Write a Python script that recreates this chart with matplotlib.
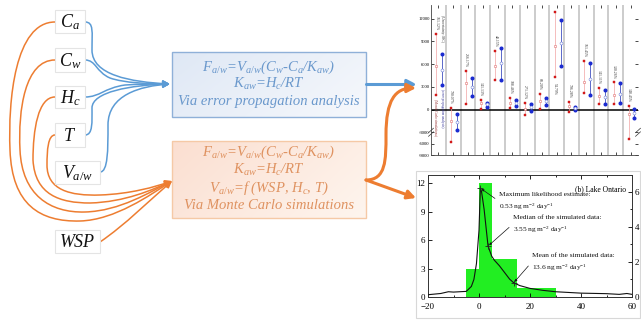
import numpy as np
import matplotlib
matplotlib.use("Agg")
import matplotlib.pyplot as plt
from matplotlib.path import Path
from matplotlib.patches import FancyArrowPatch, Rectangle
from matplotlib.colors import LinearSegmentedColormap

plt.rcParams['font.family'] = ['Liberation Serif', 'DejaVu Serif']
plt.rcParams['mathtext.fontset'] = 'custom'
plt.rcParams['mathtext.it'] = 'Liberation Serif:italic'
plt.rcParams['mathtext.rm'] = 'Liberation Serif'
plt.rcParams['mathtext.bf'] = 'Liberation Serif:bold'

# ---------------- data ----------------
input_labels = [r"$C_a$", r"$C_w$", r"$H_c$", r"$T$", r"$V_{a/w}$", r"$WSP$"]
blue_box_lines = ["F$_{a/w}$=V$_{a/w}$(C$_w$-C$_a$/K$_{aw}$)",
                  "K$_{aw}$=H$_c$/RT",
                  "Via error propagation analysis"]
orange_box_lines = ["F$_{a/w}$=V$_{a/w}$(C$_w$-C$_a$/K$_{aw}$)",
                    "K$_{aw}$=H$_c$/RT",
                    "V$_{a/w}$=f (WSP, H$_c$, T)",
                    "Via Monte Carlo simulations"]

pct_labels = ["161.12%", "790.07%", "256.17%", "141.13%", "48.15%", "188.46%",
              "271.12%", "68.20%", "54.79%", "796.28%", "161.45%", "141.11%",
              "130.26%", "148.45%"]
red_hi = [10010, 190, 5140, 1250, 7700, 1510, 800, 2040, 12870, 1020, 6370, 2790, 3590, 490]
red_mid = [5800, -1500, 3450, 930, 5710, 850, 50, 1150, 8360, 490, 3680, 1820, 1910, -610]
red_lo = [1950, -5580, 720, 50, 3900, 190, -750, 50, 4250, -270, 2120, 720, 720, -4860]
blue_hi = [7350, -530, 4110, 930, 8100, 1250, 720, 1590, 11770, 360, 6110, 2570, 3450, 130]
blue_mid = [5270, -1590, 3010, 720, 6150, 850, 360, 1150, 8760, 190, 4040, 1690, 2040, -480]
blue_lo = [3280, -2740, 1730, 360, 3940, 490, -170, 580, 5710, -40, 1910, 720, 800, -1140]
top_yticks = [12000, 9000, 6000, 3000, 0, -3000, -6000, -9000]

hist_edges = [-5, 0, 5, 15, 30]
hist_counts = [3, 12, 4, 1]
curve_x = [-20, -15, -12, -10, -5, -3, -2, -1, 0, 0.53, 1, 2, 3.55, 5, 6, 8, 10, 12,
           13.6, 16, 20, 25, 30, 40, 50, 55, 58, 60]
curve_y = [0.13, 0.2, 0.3, 0.28, 0.32, 0.6, 1.0, 1.9, 3.8, 6.2, 6.0, 5.0, 2.9, 2.32, 2.1,
           1.78, 1.4, 1.02, 0.81, 0.65, 0.49, 0.38, 0.3, 0.22, 0.19, 0.15, 0.2, 0.15]
stat_x = [0.53, 3.55, 13.6]
stat_text = ["Maximum likelihood estimate:\n0.53 ng m$^{-2}$ day$^{-1}$",
             "Median of the simulated data:\n3.55 ng m$^{-2}$ day$^{-1}$",
             "Mean of the simulated data:\n13.6 ng m$^{-2}$ day$^{-1}$"]

BLUE = "#5b9bd5"
ORANGE = "#ed7d31"

fig = plt.figure(figsize=(6.41, 3.22), dpi=100)
fig.patch.set_facecolor("white")

# ---------------- diagram (pixel coordinates) ----------------
ax0 = fig.add_axes([0, 0, 1, 1])
ax0.set_xlim(0, 641)
ax0.set_ylim(322, 0)
ax0.axis("off")

label_boxes = [(55, 10, 30, 23), (55, 48, 30, 24), (55, 86, 30, 22),
               (55, 123, 30, 24), (55, 161, 45, 23), (55, 230, 45, 23)]
for (x, y, w, h), lab in zip(label_boxes, input_labels):
    ax0.add_patch(Rectangle((x, y), w, h, facecolor="white", edgecolor="#e4e4e4",
                            lw=0.8, zorder=3))
    ax0.text(x + w / 2, y + h / 2 + 1, lab, ha="center", va="center",
             fontsize=13, color="#111111", zorder=4)

def grad_box(x0, y0, x1, y1, c0, c1, edge):
    X, Y = np.meshgrid(np.linspace(0, 1, 60), np.linspace(0, 1, 30))
    g = (X * 0.7 + Y * 0.3)
    cmap = LinearSegmentedColormap.from_list("g", [c0, c1])
    ax0.imshow(g, extent=(x0, x1, y1, y0), cmap=cmap, aspect="auto", zorder=1,
               interpolation="bilinear")
    ax0.add_patch(Rectangle((x0, y0), x1 - x0, y1 - y0, facecolor="none",
                            edgecolor=edge, lw=1.0, zorder=2))

grad_box(172, 52, 366, 117, "#dfe8f5", "#f6f8fc", "#8fb0d8")
grad_box(172, 141, 366, 218, "#fbdfd1", "#fef5ee", "#f5c9a6")
ax0.set_xlim(0, 641)
ax0.set_ylim(322, 0)

for txt, yy in zip(blue_box_lines, [67, 84, 101]):
    ax0.text(269, yy, txt, ha="center", va="center", fontsize=10.5,
             style="italic", color="#6a98cc", zorder=3)
for txt, yy in zip(orange_box_lines, [152, 170, 188, 205]):
    ax0.text(269, yy, txt, ha="center", va="center", fontsize=10.5,
             style="italic", color="#df9260", zorder=3)

M, C, L = Path.MOVETO, Path.CURVE4, Path.LINETO

def arrow(verts, codes, color, lw=1.1, head=(4.0, 2.0)):
    p = FancyArrowPatch(path=Path(verts, codes),
                        arrowstyle="-|>,head_length=%g,head_width=%g" % head,
                        color=color, lw=lw, zorder=2.5, shrinkA=0, shrinkB=0)
    ax0.add_patch(p)

blue_tip = (170, 84)
blue_paths = [
    [(85, 22), (94, 22), (92, 32), (92, 50), (92, 75), (130, 82), blue_tip],
    [(85, 60), (96, 60), (96, 72), (110, 78), (124, 83), (150, 84), blue_tip],
    [(85, 97), (100, 97), (104, 88), (125, 85), (140, 84), (155, 84), blue_tip],
    [(85, 135), (93, 135), (92, 122), (92, 108), (92, 92), (130, 85), blue_tip],
    [(100, 172), (108, 172), (108, 150), (108, 125), (108, 95), (140, 86), blue_tip],
]
for v in blue_paths:
    arrow(v, [M, C, C, C, C, C, C], BLUE)

or_tip = (172, 181)
orange_paths = [
    [(55, 22), (15, 22), (8, 100), (10, 150), (12, 205), (40, 222), (80, 221),
     (115, 220), (150, 195), or_tip],
    [(55, 60), (25, 60), (18, 110), (20, 150), (22, 195), (50, 213), (85, 212),
     (120, 211), (150, 192), or_tip],
    [(55, 97), (38, 97), (33, 130), (33, 160), (35, 195), (60, 203), (90, 203),
     (125, 202), (152, 190), or_tip],
    [(55, 135), (48, 135), (47, 150), (47, 165), (47, 190), (70, 196), (100, 195),
     (130, 194), (155, 187), or_tip],
]
for v in orange_paths:
    arrow(v, [M, C, C, C, C, C, C, C, C, C], ORANGE)
arrow([(100, 242), (125, 225), (150, 200), or_tip], [M, C, C, C], ORANGE)

# right-side connectors
arrow([(366, 84), (416, 84)], [M, L], BLUE, lw=2.2, head=(5, 2.6))
arrow([(366, 180), (386, 180), (386, 160), (386, 135), (386, 100), (395, 88), (416, 88)],
      [M, C, C, C, C, C, C], ORANGE, lw=2.2, head=(5, 2.6))
arrow([(366, 180), (416, 198)], [M, L], ORANGE, lw=2.2, head=(5, 2.6))

# frame around the bottom chart
ax0.add_patch(Rectangle((416, 171), 224, 147, facecolor="white", edgecolor="#d8d8d8",
                        lw=0.8, zorder=0.5))

# ---------------- top chart ----------------
def fwd(y):
    y = np.asarray(y, dtype=float)
    return np.where(y >= -3000, y, -3000 + (y + 3000) * 0.5)

def inv(y):
    y = np.asarray(y, dtype=float)
    return np.where(y >= -3000, y, -3000 + (y + 3000) * 2.0)

axt = fig.add_axes([431 / 641, 1 - 155 / 322, 207 / 641, 150 / 322])
axt.set_yscale("function", functions=(fwd, inv))
n = len(red_hi)
idx = np.arange(n)
axt.set_xlim(-0.5, n - 0.5)
axt.set_ylim(-9000, 13800)
for b in np.arange(0.5, n - 0.5, 1.0):
    axt.axvline(b, color="#cccccc", lw=1.4, zorder=1)
axt.axhline(0, color="black", lw=1.1, zorder=2)

rx = idx - 0.14
bx = idx + 0.26
for i in range(n):
    axt.plot([rx[i], rx[i]], [red_lo[i], red_hi[i]], color="#f2a3a3", lw=0.5, zorder=3)
    axt.plot([bx[i], bx[i]], [blue_lo[i], blue_hi[i]], color="#4050c0", lw=0.6, zorder=3)
axt.plot(rx, red_hi, "s", color="#e02020", ms=1.7, mec="#c01010", mew=0.3, zorder=4)
axt.plot(rx, red_lo, "s", color="#e02020", ms=1.7, mec="#c01010", mew=0.3, zorder=4)
axt.plot(rx, red_mid, "s", mfc="white", mec="#e07070", ms=1.9, mew=0.4, zorder=4)
axt.plot(bx, blue_hi, "o", color="#1a2ad0", ms=1.9, zorder=4)
axt.plot(bx, blue_lo, "o", color="#1a2ad0", ms=1.9, zorder=4)
axt.plot(bx, blue_mid, "o", mfc="white", mec="#7080d8", ms=2.1, mew=0.4, zorder=4)

for i in range(n):
    if red_hi[i] > 12000:
        axt.text(rx[i], red_lo[i] - 700, pct_labels[i], rotation=-90, ha="center",
                 va="top", fontsize=2.8, color="#333333", zorder=5)
    else:
        axt.text(rx[i], red_hi[i] + 500, pct_labels[i], rotation=-90, ha="center",
                 va="bottom", fontsize=2.8, color="#333333", zorder=5)
axt.text(bx[0], blue_hi[0] + 1500, "(Uncertainty: MC)", rotation=-90, ha="center",
         va="bottom", fontsize=2.6, color="#333333")
axt.text(rx[0], red_lo[0] - 500, "(Monte Carlo simulations)", rotation=-90,
         ha="center", va="top", fontsize=2.5, color="#993333")
axt.text(bx[0], blue_lo[0] - 600, "(error propagation analysis)", rotation=-90,
         ha="center", va="top", fontsize=2.5, color="#333399")

axt.set_yticks(top_yticks)
axt.set_yticklabels([str(t) for t in top_yticks], fontsize=3.3)
axt.set_xticks(idx)
axt.set_xticklabels([])
axt.tick_params(axis="both", direction="in", length=2, width=0.5, pad=1,
                top=True, right=True)
for s in axt.spines.values():
    s.set_linewidth(0.6)
    s.set_color("#444444")
axt.spines["right"].set_visible(False)
axt.spines["top"].set_visible(False)
# axis-break marks
yb = axt.transAxes.inverted().transform(axt.transData.transform((0, -3000)))[1]
for xa in (0.0, 1.0):
    for dy in (-0.012, 0.012):
        axt.plot([xa - 0.012, xa + 0.012], [yb + dy - 0.015, yb + dy + 0.015],
                 transform=axt.transAxes, color="#333333", lw=0.5, clip_on=False)

# ---------------- bottom chart ----------------
axb = fig.add_axes([428 / 641, 1 - 297 / 322, 204 / 641, 122 / 322])
axb.bar(hist_edges[:-1], hist_counts, width=np.diff(hist_edges), align="edge",
        color="#22ee22", edgecolor="none", zorder=1)
axb.set_xlim(-20, 60)
axb.set_ylim(0, 12.88)
axb.set_yticks([0, 3, 6, 9, 12])
axb.set_xticks([-20, 0, 20, 40, 60])
axb.set_xticks([-10, 10, 30, 50], minor=True)
axb.tick_params(axis="both", which="both", direction="in", labelsize=6.5, width=0.6,
                top=True)
axb.tick_params(axis="x", pad=4)
axb.tick_params(axis="y", pad=2, right=False)
axb.tick_params(which="major", length=3)
axb.tick_params(which="minor", length=1.5)

ax2 = axb.twinx()
ax2.plot(curve_x, curve_y, color="#111111", lw=0.8, zorder=3)
ax2.set_ylim(0, 6.95)
ax2.set_yticks([0, 2, 4, 6])
ax2.set_yticks([1, 3, 5], minor=True)
ax2.tick_params(axis="y", which="both", direction="in", labelsize=6.5, width=0.6, pad=2)
ax2.tick_params(which="major", length=3)
ax2.tick_params(which="minor", length=1.5)

stat_y = np.interp(stat_x, curve_x, curve_y)
ax2.plot(stat_x, stat_y, "+", color="#222222", ms=4, mew=0.6, zorder=4)
text_pos = [(7.8, 5.4), (13.3, 4.1), (20.8, 1.95)]
for sx, sy, txt, tp in zip(stat_x, stat_y, stat_text, text_pos):
    ax2.annotate(txt, xy=(sx, sy), xytext=tp, ha="left", va="center", fontsize=5.3,
                 linespacing=1.7, color="#111111",
                 arrowprops=dict(arrowstyle="-|>,head_length=0.25,head_width=0.12",
                                 lw=0.5, color="#111111", shrinkA=1, shrinkB=1,
                                 relpos=(0, 0.55)))
ax2.text(57.5, 6.15, "(b) Lake Ontario", ha="right", va="center", fontsize=5.5)

for a in (axb, ax2):
    for s in a.spines.values():
        s.set_linewidth(0.6)
        s.set_color("#333333")

fig.savefig("out.png", dpi=100, facecolor="white")
